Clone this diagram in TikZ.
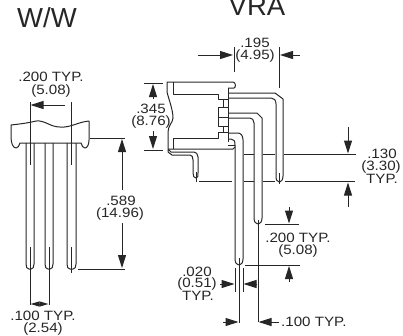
\documentclass[tikz,border=0pt]{standalone}
\usepackage{fontspec}
\setmainfont{Liberation Sans}
\newfontfamily\labfont[FakeStretch=1.12]{Liberation Sans}
\usetikzlibrary{arrows.meta}
\tikzset{
  ln/.style={line width=1pt,line join=round,black!85},
  dimline/.style={line width=1pt,black!85},
  arr/.style={dimline,-{Triangle[length=13pt,width=8pt]}},
  tinyarr/.style={dimline,{Triangle[length=9pt,width=5pt]}-{Triangle[length=9pt,width=5pt]}},
  lab/.style={inner sep=0pt,font=\labfont\fontsize{13.5}{13}\selectfont,text=black!85},
  ttl/.style={inner sep=0pt,font=\fontsize{27.5}{26}\selectfont,text=black!85},
}
\begin{document}
\begin{tikzpicture}[x=1pt,y=-1pt]
\useasboundingbox (0,0) rectangle (403,335);
% ---------- W/W ----------
\node[ttl,anchor=base] (ww) at (47,27) {W/W};
\node[lab] (wa) at (51,77) {.200 TYP.};
\node[lab] (wb) at (51,91) {(5.08)};
\node[lab] (wc) at (121,201) {.589};
\node[lab] (wd) at (120,214) {(14.96)};
\node[lab] (we) at (43,316) {.100 TYP.};
\node[lab] (wf) at (43,329) {(2.54)};
% body
\draw[ln] (11,125) .. controls (20,124) and (28,123) .. (36,121) .. controls (45,120) and (50,127) .. (60,127) .. controls (70,128) and (78,122) .. (89,121)
  -- (89,140) .. controls (89,145) and (87,148) .. (85,148) .. controls (83,148) and (82,146) .. (81,143) -- (20,143)
  .. controls (19,146) and (18,148) .. (16,148) .. controls (13,148) and (11,143) .. (11,137) -- cycle;
% pins
\foreach \a/\b in {26/34,45/53,67/76}{
  \draw[ln] (\a,143) -- (\a,264) .. controls (\a,267) and (\a+1,269) .. (\a+3,269) -- (\b-3,269) .. controls (\b-1,269) and (\b,267) .. (\b,264) -- (\b,143);
}
\draw[dimline] (30,102) -- (30,165);
\draw[dimline] (71,102) -- (71,165);
\draw[dimline] (30,247) -- (30,305);
\draw[dimline] (49,247) -- (49,305);
\draw[dimline] (71,247) -- (71,273);
\draw[arr] (65,105) -- (30.5,105);
\draw[tinyarr] (30.5,304) -- (48.5,304);
\draw[dimline] (90,138) -- (125,138);
\draw[dimline] (78,269) -- (125,269);
\draw[arr] (122,190) -- (122,139);
\draw[arr] (122,223) -- (122,268);
% ---------- VRA ----------
\node[ttl,anchor=base] (vra) at (257,15) {VRA};
\node[lab] (va) at (255,43) {.195};
\node[lab] (vb) at (255,56) {(4.95)};
\node[lab] (vc) at (151,109) {.345};
\node[lab] (vd) at (151,122) {(8.76)};
\node[lab] (ve) at (382,154) {.130};
\node[lab] (vf) at (381,167) {(3.30)};
\node[lab] (vg) at (382,179) {TYP.};
\node[lab] (vh) at (298,238) {.200 TYP.};
\node[lab] (vi) at (298,251) {(5.08)};
\node[lab] (vj) at (197,272) {.020};
\node[lab] (vk) at (197,284) {(0.51)};
\node[lab] (vl) at (198,296) {TYP.};
\node[lab,anchor=west] (vm) at (281,322) {.100 TYP.};
% housing
\draw[ln] (228,88) -- (234,88) .. controls (236,88) and (236,82) .. (233,82) -- (167,82) -- (167,92)
  .. controls (169,100) and (173,110) .. (173,118) .. controls (173,122) and (168,126) .. (168,132) -- (168,152)
  -- (172,155) -- (190,155) .. controls (192,155) and (193,157) .. (193,160) -- (193,173)
  .. controls (193,176) and (194,178) .. (196,178) .. controls (198,178) and (198,176) .. (198,173) -- (198,157)
  .. controls (198,154) and (196,152) .. (194,152) -- (171,152) -- (168,149);
\draw[ln] (173,82) -- (173,94) -- (218,94) -- (218,99) -- (228,99);
\draw[ln] (228,88) -- (228,142);
\draw[ln] (173,149) -- (173,138) -- (218,138) -- (218,132) -- (228,132);
\draw[ln] (168,149) -- (233,149) -- (235,147);
\draw[ln] (223,99) -- (223,107);
\draw[ln] (223,126) -- (223,132);
\draw[ln] (218,107) rectangle (228,126);
\draw[ln] (218,117) -- (228,117);
\draw[ln] (228,145) -- (235,145);
% long leads
\draw[ln] (228,93) -- (275,93) -- (283,99) -- (283,176) .. controls (283,180) and (281,182) .. (279.5,182) .. controls (277,182) and (276,180) .. (276,176) -- (276,104) .. controls (276,100) and (274,98) .. (271,98) -- (228,98);
\draw[ln] (228,113) -- (257,113) -- (262,118) -- (262,218) .. controls (262,222) and (260,224) .. (258,224) .. controls (256,224) and (254,222) .. (254,218) -- (254,123) .. controls (254,120) and (252,118) .. (250,118) -- (228,118);
\draw[ln] (228,133) -- (238,133) .. controls (241,133) and (243,136) .. (243,140) -- (243,259) .. controls (243,263) and (241,265) .. (239,265) .. controls (237,265) and (235,263) .. (235,259) -- (235,145) .. controls (235,141) and (234,139) .. (231,139) -- (228,139);
\draw[dimline] (196,172) -- (196,182);
\draw[dimline] (279.5,173) -- (279.5,184);
\draw[dimline] (239,258) -- (239,323);
\draw[dimline] (258,220) -- (258,322);
% extension lines
\draw[dimline] (234,47) -- (234,72);
\draw[dimline] (279,47) -- (279,88);
\draw[dimline] (144,83) -- (163,83);
\draw[dimline] (144,150) -- (163,150);
\draw[dimline] (244,154.5) -- (254,154.5);
\draw[dimline] (263,154.5) -- (275,154.5);
\draw[dimline] (284,154.5) -- (356,154.5);
\draw[dimline] (199,181.5) -- (232,181.5);
\draw[dimline] (244,181.5) -- (254,181.5);
\draw[dimline] (263,181.5) -- (275,181.5);
\draw[dimline] (285,181.5) -- (355,181.5);
\draw[dimline] (265,224) -- (299,224);
\draw[dimline] (245,265) -- (300,265);
\draw[dimline] (235,268) -- (235,292);
\draw[dimline] (243,268) -- (243,292);
% arrows
\draw[arr] (198,55) -- (233,55);
\draw[arr] (300,55) -- (280,55);
\draw[arr] (153,99) -- (153,84);
\draw[arr] (153,131) -- (153,149);
\draw[arr] (348,127) -- (348,153.5);
\draw[arr] (348,207) -- (348,182.5);
\draw[arr] (289,207) -- (289,223.5);
\draw[arr] (289,282) -- (289,266);
\draw[arr] (220,284) -- (234.5,284);
\draw[arr] (257,284) -- (243.5,284);
\draw[arr] (223,322) -- (238.5,322);
\draw[arr] (279,322) -- (258.5,322);
\end{tikzpicture}
\end{document}
